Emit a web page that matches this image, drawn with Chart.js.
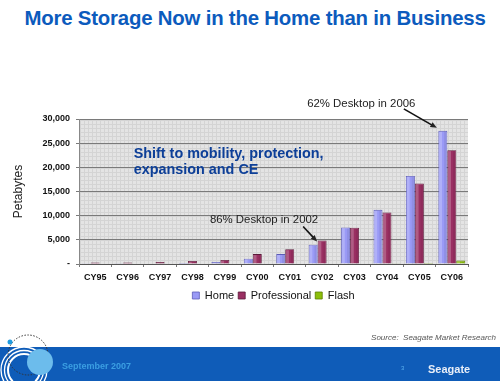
<!DOCTYPE html>
<html>
<head>
<meta charset="utf-8">
<script src="https://cdn.jsdelivr.net/npm/chart.js@4.4.1/dist/chart.umd.min.js"></script>
<style>
  html, body { margin: 0; padding: 0; background: #fff; }
  #wrap { position: relative; width: 500px; height: 381px; overflow: hidden; font-family: Arial, "Liberation Sans", sans-serif; }
  #title { position: absolute; left: 5px; width: 500px; top: 7px; text-align: center; color: #0c5bbd; font-weight: bold; font-size: 20.4px; letter-spacing: -0.2px; }
  #source { position: absolute; right: 4px; top: 333px; font-size: 8px; font-style: italic; color: #555; }
  #footer { position: absolute; left: 0; top: 347px; width: 500px; height: 34px; background: #0f5cb8; }
  #date { position: absolute; left: 62px; top: 361px; font-size: 9px; font-weight: bold; color: #3b9fe2; }
  #page { position: absolute; left: 401px; top: 365px; font-size: 6px; color: #5ab0f0; }
  #logo { position: absolute; left: 428px; top: 363px; font-size: 11px; font-weight: bold; color: #e8eef8; }
  #deco { position: absolute; left: 0; top: 318px; }
  canvas { position: absolute; left: 0; top: 0; }
</style>
</head>
<body>
<div id="wrap">
  <div id="title">More Storage Now in the Home than in Business</div>
  <canvas id="myChart" width="500" height="381"></canvas>
  <div id="source">Source:&nbsp; Seagate Market Research</div>
  <div id="footer"></div>
  <svg id="deco" width="80" height="63">
    <circle cx="24" cy="52" r="16" fill="none" stroke="#fff" stroke-width="2"/>
    <circle cx="24" cy="52" r="19.5" fill="none" stroke="#fff" stroke-width="1.3"/>
    <circle cx="24" cy="52" r="23" fill="none" stroke="#fff" stroke-width="1.3"/>
    <circle cx="24" cy="55" r="13" fill="#0f5cb8"/>
    <circle cx="28" cy="37" r="20" fill="none" stroke="#333" stroke-width="1" stroke-dasharray="1.5,1.5"/>
    <circle cx="40" cy="44" r="13" fill="#6cbcec"/>
    <circle cx="10" cy="24" r="2.5" fill="#1e9be0"/>
  </svg>
  <div id="date">September 2007</div>
  <div id="page">3</div>
  <div id="logo">Seagate</div>
</div>
<script>
var years = ['CY95', 'CY96', 'CY97', 'CY98', 'CY99', 'CY00', 'CY01', 'CY02', 'CY03', 'CY04', 'CY05', 'CY06'];
var home = [50, 60, 80, 200, 400, 1100, 2050, 4000, 7550, 11200, 18200, 27550];
var professional = [320, 330, 420, 620, 850, 2050, 3050, 4850, 7500, 10650, 16650, 23550];
var flash = [0, 0, 0, 0, 0, 0, 0, 0, 0, 60, 200, 700];
var yTicks = [0, 5000, 10000, 15000, 20000, 25000, 30000];

// light gray cross-hatch for the plot background
var pat = document.createElement('canvas');
pat.width = 4; pat.height = 4;
var pc = pat.getContext('2d');
pc.fillStyle = '#e4e4e4';
pc.fillRect(0, 0, 4, 4);
pc.fillStyle = '#d4d4d4';
pc.fillRect(0, 0, 4, 1);
pc.fillRect(0, 0, 1, 4);

var plotBg = {
    id: 'plotBg',
    beforeDraw: function(chart) {
        var a = chart.chartArea, ctx = chart.ctx;
        ctx.save();
        ctx.fillStyle = ctx.createPattern(pat, 'repeat');
        ctx.fillRect(a.left, a.top, a.right - a.left, a.bottom - a.top);
        ctx.restore();
    }
};

function arrow(ctx, x1, y1, x2, y2) {
    var ang = Math.atan2(y2 - y1, x2 - x1);
    ctx.beginPath();
    ctx.moveTo(x1, y1);
    ctx.lineTo(x2 - 5 * Math.cos(ang), y2 - 5 * Math.sin(ang));
    ctx.stroke();
    ctx.beginPath();
    ctx.moveTo(x2, y2);
    ctx.lineTo(x2 - 7 * Math.cos(ang - 0.4), y2 - 7 * Math.sin(ang - 0.4));
    ctx.lineTo(x2 - 7 * Math.cos(ang + 0.4), y2 - 7 * Math.sin(ang + 0.4));
    ctx.closePath();
    ctx.fill();
}

var notes = {
    id: 'notes',
    afterDatasetsDraw: function(chart) {
        var ctx = chart.ctx, x = chart.scales.x, y = chart.scales.y;
        ctx.save();
        // shading on bars for a bit of depth
        chart.data.datasets.forEach(function(ds, di) {
            chart.getDatasetMeta(di).data.forEach(function(bar) {
                if (bar.base - bar.y < 1) return;
                var w = bar.width;
                ctx.fillStyle = 'rgba(255,255,255,0.22)';
                ctx.fillRect(bar.x - w / 2 + 1, bar.y + 1, w * 0.3, bar.base - bar.y - 1);
                ctx.fillStyle = 'rgba(0,0,0,0.07)';
                ctx.fillRect(bar.x + w * 0.15, bar.y + 1, w * 0.35 - 1, bar.base - bar.y - 1);
            });
        });

        ctx.fillStyle = '#0d3f98';
        ctx.font = 'bold 14.4px Arial, "Liberation Sans", sans-serif';
        ctx.textBaseline = 'middle';
        ctx.textAlign = 'left';
        var sx = x.getPixelForValue(1) + 6;
        ctx.fillText('Shift to mobility, protection,', sx, y.getPixelForValue(22850));
        ctx.fillText('expansion and CE', sx, y.getPixelForValue(19400));

        ctx.fillStyle = '#222';
        ctx.strokeStyle = '#111';
        ctx.lineWidth = 1.6;
        ctx.font = '11.4px Arial, "Liberation Sans", sans-serif';
        var b06 = chart.getDatasetMeta(0).data[11];
        ctx.fillText('62% Desktop in 2006', x.getPixelForValue(7) - 15, y.getPixelForValue(33100));
        arrow(ctx, b06.x - 39, b06.y - 22, b06.x - 6, b06.y - 3);
        var b02 = chart.getDatasetMeta(1).data[7];
        ctx.fillText('86% Desktop in 2002', x.getPixelForValue(4) - 15, y.getPixelForValue(9200));
        arrow(ctx, b02.x - 19, b02.y - 14, b02.x - 5, b02.y + 1);
        ctx.restore();
    }
};

var ctx = document.getElementById('myChart').getContext('2d');
var myChart = new Chart(ctx, {
    type: 'bar',
    data: {
        labels: years,
        datasets: [{
            label: 'Home',
            data: home,
            backgroundColor: '#9a9af6',
            borderColor: '#5c5cb8',
            borderWidth: 0.8
        }, {
            label: 'Professional',
            data: professional,
            backgroundColor: '#9a2f62',
            borderColor: '#5c1a3a',
            borderWidth: 0.8
        }, {
            label: 'Flash',
            data: flash,
            backgroundColor: '#8cbf0a',
            borderColor: '#5a7e00',
            borderWidth: 0.8
        }]
    },
    options: {
        responsive: false,
        animation: false,
        layout: { padding: { left: 0, top: 119, right: 32, bottom: 70 } },
        datasets: { bar: { categoryPercentage: 0.83, barPercentage: 1.0 } },
        scales: {
            x: {
                grid: { display: true, drawOnChartArea: false, tickLength: 3, color: '#777', offset: true },
                border: { color: '#555' },
                ticks: { color: '#111', padding: 5, font: { family: 'Arial', size: 9, weight: 'bold' } },
                afterFit: function(s) { s.height = 22; }
            },
            y: {
                min: 0,
                max: 30000,
                afterBuildTicks: function(s) { s.ticks = yTicks.map(function(v) { return { value: v }; }); },
                grid: { color: '#7a7a7a', tickLength: 3 },
                border: { color: '#888' },
                ticks: {
                    color: '#111',
                    padding: 6,
                    font: { family: 'Arial', size: 9, weight: 'bold' },
                    callback: function(v) { return v === 0 ? '-' : v.toLocaleString('en-US'); }
                },
                title: {
                    display: true,
                    text: 'Petabytes',
                    color: '#222',
                    padding: { top: 11, bottom: 0 },
                    font: { family: 'Arial', size: 12 }
                },
                afterFit: function(s) { s.width = 79; }
            }
        },
        plugins: {
            legend: {
                position: 'bottom',
                fullSize: false,
                labels: {
                    boxWidth: 7,
                    boxHeight: 7,
                    padding: 4,
                    color: '#111',
                    font: { family: 'Arial', size: 11 }
                }
            },
            tooltip: { enabled: false }
        }
    },
    plugins: [plotBg, notes]
});
</script>
</body>
</html>
